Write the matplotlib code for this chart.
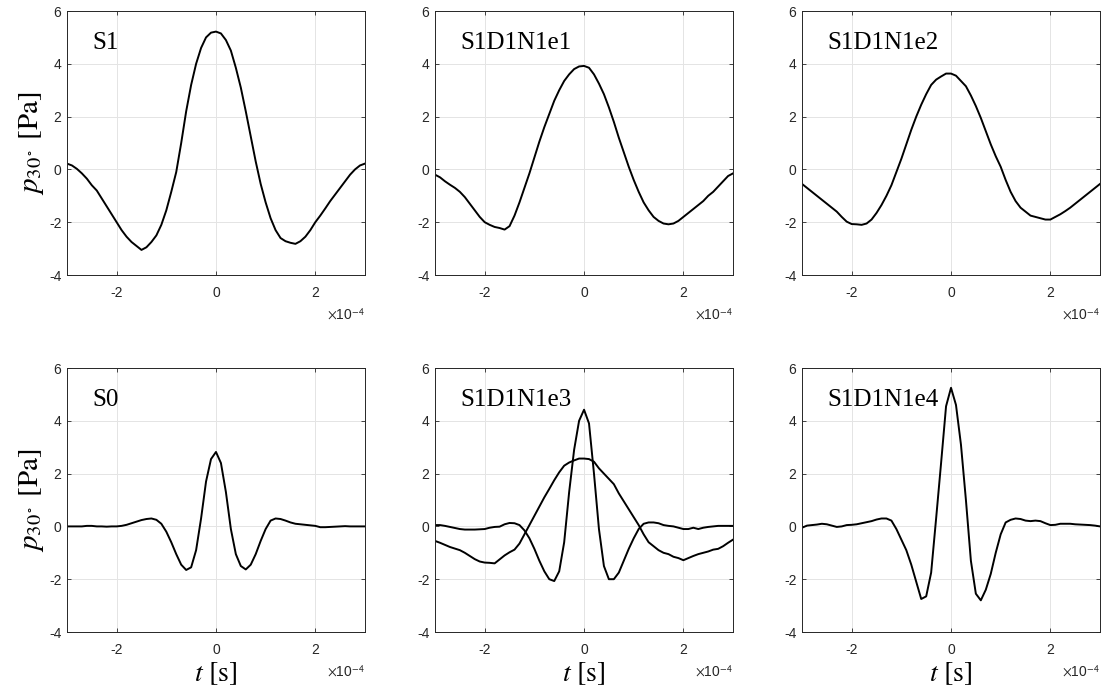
import numpy as np
import matplotlib
matplotlib.use("Agg")
import matplotlib.pyplot as plt

plt.rcParams['font.family'] = ['Liberation Sans', 'DejaVu Sans']
plt.rcParams['mathtext.fontset'] = 'stix'
plt.rcParams['axes.unicode_minus'] = False

# time grid, in units of 1e-4 s
t = np.round(np.linspace(-3.0, 3.0, 61), 1)

s1 = [0.22, 0.15, 0.02, -0.15, -0.35, -0.6, -0.8, -1.1, -1.4, -1.7,
      -2.0, -2.3, -2.55, -2.75, -2.9, -3.05, -2.95, -2.75, -2.5, -2.1,
      -1.55, -0.85, -0.1, 1.0, 2.2, 3.2, 4.0, 4.6, 5.0, 5.18,
      5.22, 5.15, 4.9, 4.5, 3.85, 3.1, 2.2, 1.25, 0.3, -0.55,
      -1.25, -1.85, -2.3, -2.6, -2.72, -2.78, -2.82, -2.72, -2.55, -2.3,
      -2.0, -1.75, -1.48, -1.2, -0.95, -0.7, -0.45, -0.2, 0.0, 0.15, 0.22]

s0 = [0.0, 0.0, 0.0, 0.0, 0.02, 0.02, 0.0, 0.0, -0.01, 0.0,
      0.0, 0.02, 0.06, 0.12, 0.18, 0.24, 0.28, 0.3, 0.25, 0.1,
      -0.2, -0.6, -1.05, -1.45, -1.65, -1.55, -0.9, 0.3, 1.7, 2.55,
      2.82, 2.4, 1.3, -0.1, -1.05, -1.5, -1.63, -1.45, -1.05, -0.55,
      -0.1, 0.22, 0.3, 0.28, 0.22, 0.15, 0.1, 0.08, 0.06, 0.04,
      0.02, -0.03, -0.03, -0.02, -0.01, 0.0, 0.01, 0.0, 0.0, 0.0, 0.0]

e1 = [-0.2, -0.3, -0.45, -0.58, -0.7, -0.85, -1.05, -1.3, -1.55, -1.8,
      -2.0, -2.1, -2.18, -2.22, -2.28, -2.15, -1.75, -1.25, -0.7, -0.15,
      0.45, 1.05, 1.6, 2.1, 2.6, 3.0, 3.35, 3.6, 3.8, 3.9,
      3.92, 3.85, 3.6, 3.25, 2.85, 2.35, 1.8, 1.2, 0.65, 0.1,
      -0.4, -0.85, -1.25, -1.55, -1.8, -1.95, -2.05, -2.08, -2.05, -1.95,
      -1.8, -1.65, -1.5, -1.35, -1.2, -1.0, -0.85, -0.65, -0.45, -0.25, -0.15]

e2 = [-0.55, -0.7, -0.85, -1.0, -1.15, -1.3, -1.45, -1.6, -1.8, -1.98,
      -2.07, -2.08, -2.1, -2.05, -1.9, -1.65, -1.35, -1.0, -0.6, -0.1,
      0.4, 0.95, 1.5, 2.0, 2.45, 2.85, 3.2, 3.4, 3.52, 3.63,
      3.63, 3.55, 3.35, 3.15, 2.8, 2.4, 1.95, 1.45, 0.95, 0.5,
      0.1, -0.4, -0.85, -1.2, -1.45, -1.6, -1.75, -1.8, -1.85, -1.9,
      -1.9, -1.8, -1.7, -1.58, -1.45, -1.3, -1.15, -1.0, -0.85, -0.7, -0.55]

e3_narrow = [0.05, 0.05, 0.02, -0.02, -0.06, -0.1, -0.12, -0.12, -0.12, -0.11,
             -0.1, -0.05, -0.02, -0.01, 0.08, 0.13, 0.12, 0.05, -0.15, -0.45,
             -0.85, -1.3, -1.7, -2.0, -2.07, -1.7, -0.6, 1.3, 2.9, 4.0,
             4.42, 3.9, 2.0, -0.1, -1.5, -2.0, -2.0, -1.75, -1.3, -0.85,
             -0.45, -0.1, 0.1, 0.15, 0.15, 0.12, 0.05, 0.02, 0.0, -0.05,
             -0.1, -0.1, -0.05, -0.1, -0.05, -0.02, 0.0, 0.02, 0.02, 0.02, 0.02]

e3_broad = [-0.55, -0.62, -0.7, -0.78, -0.84, -0.9, -1.0, -1.12, -1.24, -1.33,
            -1.37, -1.38, -1.4, -1.25, -1.1, -0.98, -0.88, -0.65, -0.3, 0.05,
            0.4, 0.75, 1.1, 1.42, 1.75, 2.05, 2.3, 2.42, 2.5, 2.57,
            2.57, 2.55, 2.45, 2.2, 2.0, 1.8, 1.6, 1.25, 0.95, 0.65,
            0.35, 0.05, -0.3, -0.6, -0.75, -0.9, -1.0, -1.05, -1.15, -1.2,
            -1.28, -1.2, -1.12, -1.05, -1.0, -0.95, -0.88, -0.85, -0.75, -0.62, -0.5]

e4 = [-0.05, 0.03, 0.05, 0.07, 0.1, 0.08, 0.03, -0.02, 0.0, 0.05,
      0.06, 0.08, 0.12, 0.16, 0.2, 0.26, 0.3, 0.3, 0.22, -0.1,
      -0.5, -0.9, -1.45, -2.1, -2.75, -2.65, -1.75, 0.3, 2.4, 4.55,
      5.25, 4.6, 3.1, 1.0, -1.3, -2.55, -2.8, -2.4, -1.8, -1.0,
      -0.3, 0.15, 0.25, 0.3, 0.28, 0.22, 0.2, 0.22, 0.2, 0.12,
      0.05, 0.06, 0.1, 0.1, 0.1, 0.08, 0.07, 0.06, 0.05, 0.03, 0.0]

panels = [("S1", [s1]), ("S1D1N1e1", [e1]), ("S1D1N1e2", [e2]),
          ("S0", [s0]), ("S1D1N1e3", [e3_narrow, e3_broad]), ("S1D1N1e4", [e4])]

fig = plt.figure(figsize=(11.05, 6.92), dpi=100)

lefts = [0.0606, 0.3937, 0.7258]
bottoms = [0.6026, 0.0867]
w, h = 0.2697, 0.3815

for i, (name, curves) in enumerate(panels):
    row, col = divmod(i, 3)
    ax = fig.add_axes([lefts[col], bottoms[row], w, h])
    for y in curves:
        ax.plot(t, y, color='black', lw=1.4)
    ax.set_xlim(-3, 3)
    ax.set_ylim(-4, 6)
    ax.set_xticks([-2, 0, 2])
    ax.set_yticks([-4, -2, 0, 2, 4, 6])
    ax.grid(True, color='#e4e4e4', lw=0.7)
    ax.tick_params(direction='in', length=3, width=0.6, top=True, right=True,
                   labelsize=10, colors='#262626')
    ax.tick_params(axis='x', pad=8)
    ax.tick_params(axis='y', pad=4)
    for sp in ax.spines.values():
        sp.set_color('#262626')
        sp.set_linewidth(0.7)
    ax.text(0.085, 0.877, name, transform=ax.transAxes, fontsize=18,
            family='Liberation Serif', va='center', ha='left')
    ax.text(1.0, -0.15, r'$\times$10$^{\mathsf{-4}}$', transform=ax.transAxes,
            fontsize=10, color='#262626', ha='right', va='center')
    if col == 0:
        ax.set_ylabel(r'$p_{30^\circ}\ [\mathrm{Pa}]$', fontsize=21, labelpad=2)
    if row == 1:
        ax.set_xlabel(r'$t\ [\mathrm{s}]$', fontsize=20, labelpad=2)

fig.savefig('out.png', dpi=100)
